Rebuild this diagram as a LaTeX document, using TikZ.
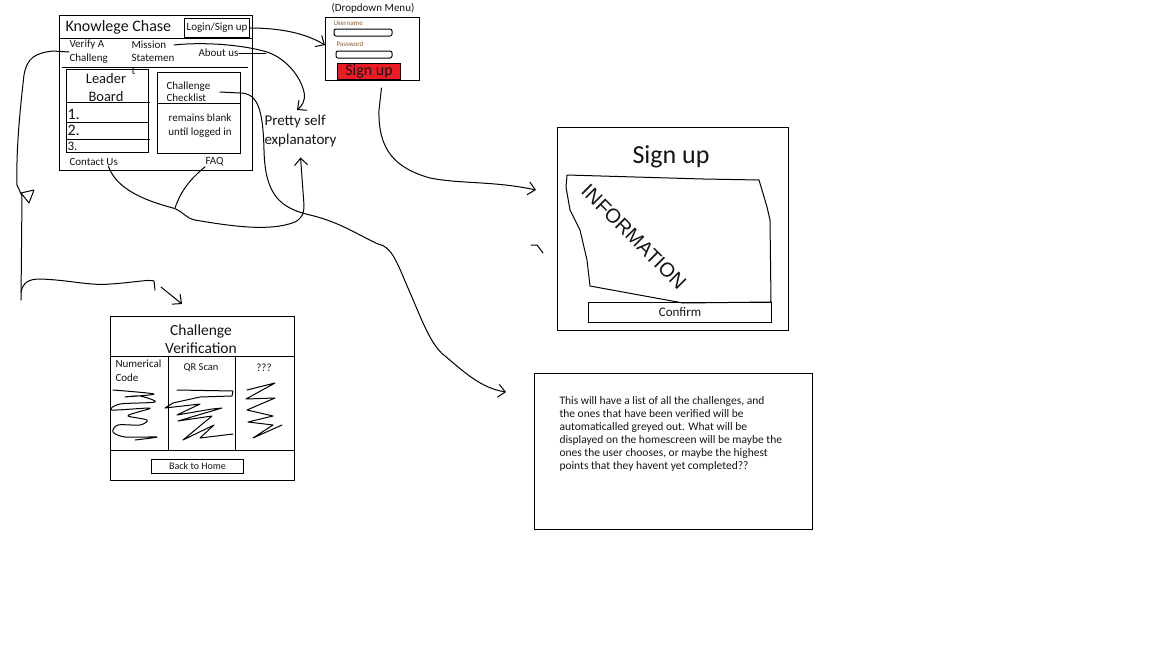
\documentclass[tikz,border=0pt]{standalone}
\usepackage{fontspec}
\setmainfont{Carlito}
\newfontfamily\handfont{Liberation Sans}
\usetikzlibrary{arrows.meta,positioning}
\definecolor{paintred}{HTML}{ED1C24}
\definecolor{ink}{HTML}{141414}
\definecolor{hint}{HTML}{8A5A2E}
\newcommand{\fsz}[2]{\fontsize{#1}{#2}\selectfont}

\begin{document}
\begin{tikzpicture}[x=1pt,y=-1pt,line width=1pt,>={Straight Barb[length=7pt,width=13pt]},
  box/.style={draw,inner sep=0pt,anchor=north west},
  txt/.style={inner sep=0pt,text=ink,font=\fsz{11}{14}},
  wire/.style={line join=round,line cap=round}]
  \useasboundingbox (0,0) rectangle (1152,648);

  \node[box,minimum width=193pt,minimum height=155pt] (home) at (59,15) {};
  \node[box,minimum width=65pt,minimum height=19pt,txt] (login) at (184,18) {Login/Sign up};
  \node[txt,anchor=west,font=\fsz{16}{18}] (title) at (65,27) {Knowlege Chase};
  \draw (59,38) -- (252,38);
  \node[txt,anchor=west,align=left] (verify) at (69,52) {Verify A\\Challeng};
  \node[txt,anchor=west,align=left,font=\fsz{11}{13}] (mission) at (131,58) {Mission\\Statemen\\t};
  \node[txt,anchor=west] (about) at (198,53) {About us};
  \draw (62,67) -- (248,67);
  \node[box,minimum width=82pt,minimum height=83pt] (leader) at (66,69) {};
  \node[txt,align=center,font=\fsz{14.5}{18}] (leadtxt) at (106,88) {Leader\\Board};
  \draw (66,102) -- (150,102) (66,122) -- (148,122) (66,139) -- (150,139);
  \node[txt,anchor=west,font=\fsz{16}{16}] (rank1) at (67,114) {1.};
  \node[txt,anchor=west,font=\fsz{16}{16}] (rank2) at (67,130) {2.};
  \node[txt,anchor=west,font=\fsz{13}{13}] (rank3) at (67,146) {3.};
  \node[box,minimum width=83pt,minimum height=81pt] (check) at (157,72) {};
  \draw (157,103) -- (240,103);
  \node[txt,anchor=west,align=left,font=\fsz{11}{12}] (checktxt) at (166,92) {Challenge\\Checklist};
  \node[txt,align=center] (blank) at (200,126) {remains blank\\until logged in};
  \node[txt,anchor=west] (contact) at (69,162) {Contact Us};
  \node[txt,anchor=west] (faq) at (205,162) {FAQ};

  \node[txt] (droptitle) at (373,8) {(Dropdown Menu)};
  \node[box,minimum width=94pt,minimum height=63pt] (drop) at (325,17) {};
  \node[txt,anchor=west,font=\fsz{7}{7},text=hint] (user) at (333,23) {Username};
  \draw[rounded corners=2pt] (334,29) rectangle (392,36);
  \node[txt,anchor=west,font=\fsz{7}{7},text=hint] (pass) at (336,44) {Password};
  \draw[rounded corners=2pt] (336,51) rectangle (392,58);
  \node[box,fill=paintred,minimum width=63pt,minimum height=16pt,txt,font=\fsz{16}{16}] (signbtn) at (337,63) {Sign up};

  \node[txt,anchor=west,align=left,font=\fsz{15}{19}] (pretty) at (264,131) {Pretty self\\explanatory};

  \node[box,minimum width=231pt,minimum height=203pt] (signup) at (557,127) {};
  \node[txt,font=\fsz{26}{26}] (signtitle) at (671,157) {Sign up};
  \draw[wire] (567,175) -- (703,179) -- (759,180) -- (767,207) -- (770,220) -- (771,302) -- (683,303)
    -- (590,286) -- (587,260) -- (580,230) -- (570,210) -- (566,187) -- cycle;
  \node[txt,rotate=-45,font=\handfont\fsz{20}{20}] (info) at (634,237) {INFORMATION};
  \node[box,minimum width=183pt,minimum height=20pt,txt,font=\fsz{13}{13}] (confirm) at (588,302) {Confirm};

  \node[box,minimum width=278pt,minimum height=156pt] (notes) at (534,373) {};
  \node[txt,anchor=west,align=left,font=\fsz{11.5}{13}] (notetxt) at (559,434) {This will have a list of all the challenges, and\\the ones that have been verified will be\\automaticalled greyed out. What will be\\displayed on the homescreen will be maybe the\\ones the user chooses, or maybe the highest\\points that they havent yet completed??};

  \node[box,minimum width=184pt,minimum height=164pt] (verif) at (110,316) {};
  \draw (110,356) -- (294,356) (168,356) -- (168,450) (235,356) -- (235,450) (110,450) -- (294,450);
  \node[txt,align=center,font=\fsz{15.5}{18}] (veriftxt) at (201,339) {Challenge\\Verification};
  \node[txt,anchor=west,align=left,font=\fsz{11}{14}] (numcode) at (115,371) {Numerical\\Code};
  \node[txt,font=\fsz{10.5}{12}] (qr) at (201,368) {QR Scan};
  \node[txt] (qq) at (264,368) {???};
  \node[box,minimum width=92pt,minimum height=14pt,txt,font=\fsz{10}{10}] (back) at (151,459) {Back to Home};
  \draw[wire] plot[smooth] coordinates {(113,390) (154,394) (125,397) (140,396) (155,402) (120,404) (112,410)
    (150,408) (138,412) (128,416) (147,420) (140,425) (118,425) (113,432) (125,437) (157,437) (135,440)};
  \draw[wire] (177,390) -- (233,391) -- (232,396) -- (200,397) -- (173,403) -- (165,408) -- (200,404) -- (177,415)
    -- (212,409) -- (222,408) -- (178,421) -- (212,416) -- (183,440) -- (214,425) -- (200,438) -- (233,434);
  \draw[wire] (247,390) -- (275,383) -- (246,399) -- (275,398) -- (247,410) -- (273,416) -- (248,422)
    -- (273,425) -- (253,438) -- (282,425);

  \draw[->,wire] (login.east) .. controls (280,28) and (305,33) .. ([yshift=4pt]drop.west);
  \coordinate (mis) at (174,45);
  \draw[->,wire] (mis) .. controls (200,42) and (240,44) .. (267,52) .. controls (285,58) and (300,75) .. (304,92)
    .. controls (306,100) and (302,106) .. (297,110);
  \draw[wire] (about.east) -- (266,53);
  \coordinate (tipN) at (506,392);
  \draw[->,wire] ([xshift=9pt]checktxt.east) -- (240,93) .. controls (258,93) and (263,110) .. (264,150)
    .. controls (265,195) and (280,208) .. (310,215) .. controls (340,222) and (360,236) .. (378,244)
    .. controls (392,246) and (398,265) .. (408,288) .. controls (420,315) and (430,345) .. (445,356)
    .. controls (462,370) and (480,388) .. (tipN);
  \draw[->,wire] ([xshift=-10pt]contact.south east) .. controls (115,185) and (135,198) .. (173,208)
    .. controls (183,211) and (185,218) .. (195,220) .. controls (230,226) and (270,232) .. (295,222)
    .. controls (302,218) and (304,214) .. (304,205) -- ([yshift=-10pt]pretty.south);
  \draw[wire] (faq.south west) .. controls (192,178) and (182,188) .. (175,208);
  \draw[wire] (verify.west) -- (53,51) .. controls (35,53) and (27,58) .. (24,75) .. controls (20,110) and (16,150)
    .. (17,185) -- (22,196) -- (21,300);
  \draw[line join=round] (21,193) -- (34,190) -- (29,203) -- cycle;
  \draw[wire] (21,292) .. controls (23,283) and (28,279) .. (40,279) .. controls (70,280) and (90,286) .. (110,284)
    .. controls (130,283) and (150,279) .. (154,281) -- (155,290);
  \coordinate (tipV) at (182,304);
  \draw[->,wire] (161,287) -- (tipV);
  \coordinate (tipS) at (536,190);
  \draw[->,wire] ([xshift=9pt,yshift=-7pt]drop.south) -- (379,110) .. controls (378,150) and (395,168) .. (430,178)
    .. controls (460,184) and (495,181) .. (tipS);
  \draw[wire] (531,245) -- (537,245) -- (543,253);
\end{tikzpicture}
\end{document}
